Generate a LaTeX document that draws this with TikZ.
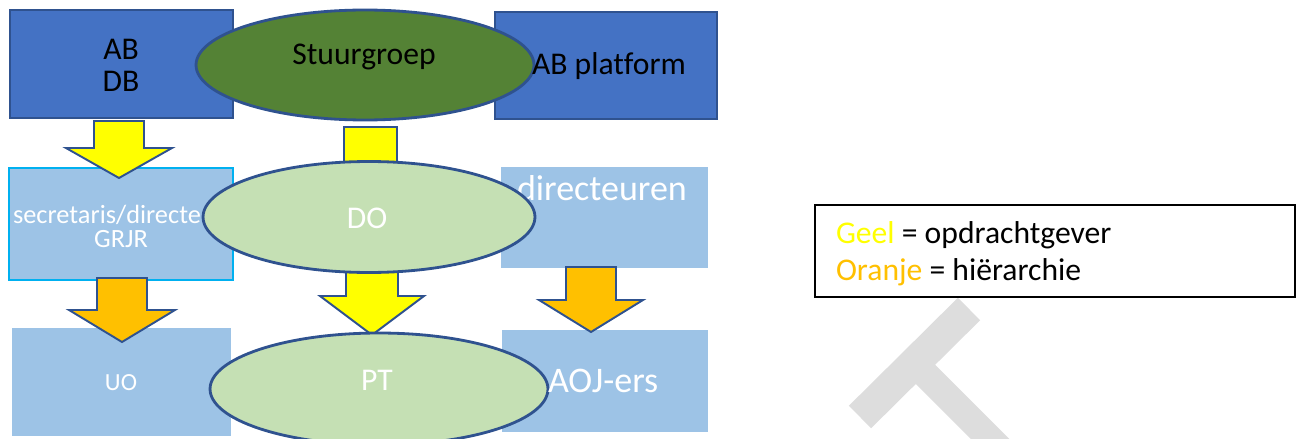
\documentclass[tikz,border=0pt]{standalone}
\usepackage{fontspec}
\setmainfont{Carlito}[Ligatures=NoCommon]
\usetikzlibrary{shapes.geometric}
\definecolor{boxblue}{HTML}{4472C4}
\definecolor{bordblue}{HTML}{2F528F}
\definecolor{sgreen}{HTML}{548235}
\definecolor{lgreen}{HTML}{C5E0B4}
\definecolor{lblue}{HTML}{9DC3E6}
\definecolor{cyanb}{HTML}{00B0F0}
\definecolor{ayellow}{HTML}{FFFF00}
\definecolor{aorange}{HTML}{FFC000}
\definecolor{wmgrey}{HTML}{DDDDDD}
\newcommand{\fs}[1]{\fontsize{#1}{#1}\selectfont}
% block arrow: xc, shaft half, head half, ytop, yneck, ytip, colour
\newcommand{\blockarr}[7]{%
  \draw[blockarrow, fill=#7] ({#1-#2},#4) -- ({#1+#2},#4) -- ({#1+#2},#5) -- ({#1+#3},#5)
    -- (#1,#6) -- ({#1-#3},#5) -- ({#1-#2},#5) -- cycle;}
\tikzset{
  darkbox/.style={rectangle, draw=bordblue, line width=1.1pt, fill=boxblue, inner sep=0pt},
  lightbox/.style={rectangle, fill=lblue, inner sep=0pt},
  oval/.style={ellipse, draw=bordblue, line width=1.6pt, inner sep=0pt},
  blockarrow/.style={draw=bordblue, line width=1.1pt, line join=miter},
  lbl/.style={inner sep=0pt, outer sep=0pt},
  wm/.style={wmgrey, line cap=butt}
}
\begin{document}
\begin{tikzpicture}[x=0.02cm, y=-0.02cm]
\useasboundingbox (0,0) rectangle (1301,439);
\fill[white] (0,0) rectangle (1301,439);

% watermark fragment
\begin{scope}
\clip (0,0) rectangle (1301,439);
\draw[wm, line width=18pt] (860,417) -- (969,309);
\draw[wm, line width=15.5pt] (914,363) -- (1020,469);
\end{scope}

% top row
\node[darkbox, minimum width=4.46cm, minimum height=2.16cm] (abdb) at (121.5,64) {};
\node[darkbox, minimum width=4.44cm, minimum height=2.14cm] (abpl) at (606,65.5) {};
\fill[ayellow, draw=bordblue, line width=1.1pt] (344,127) rectangle (397,200);
\node[oval, fill=sgreen, minimum width=6.76cm, minimum height=2.2cm] (stuur) at (365,65) {};
\node[lbl, align=center, font=\fontsize{18}{18.2}\selectfont] (tabdb) at (121,65) {AB\\DB};
\node[lbl, font=\fs{18}] (tstuur) at (364,57) {Stuurgroep};
\node[lbl, font=\fs{18}, anchor=west] (tabpl) at (532,66) {AB platform};

% middle row
\node[lightbox, draw=cyanb, line width=1pt, minimum width=4.48cm, minimum height=2.24cm] (secr) at (121,224) {};
\node[lightbox, minimum width=4.14cm, minimum height=2.02cm] (dirc) at (604.5,217.5) {};
\blockarr{119}{25}{53}{121}{148}{178}{ayellow}
\node[lbl, white, font=\fs{15}, anchor=base west] (tsecr) at (13,223) {secretaris/directe};
\node[lbl, white, font=\fs{15}, anchor=base] (tgrjr) at (121,247) {GRJR};
\node[lbl, white, font=\fs{20.5}, anchor=base west] (tdirc) at (517,200) {directeuren};
\blockarr{372}{26}{52}{250}{296}{335}{ayellow}
\node[oval, fill=lgreen, minimum width=6.64cm, minimum height=2.22cm] (do) at (369,217) {};
\node[lbl, white, font=\fs{18}, anchor=base] (tdo) at (367,228) {DO};

% bottom row
\node[lightbox, minimum width=4.38cm, minimum height=2.16cm] (uo) at (121.5,382) {};
\node[lightbox, minimum width=4.12cm, minimum height=2.04cm] (aoj) at (605,381) {};
\blockarr{122}{25}{53}{278}{310}{342}{aorange}
\blockarr{591}{25}{52}{267}{300}{332}{aorange}
\node[oval, fill=lgreen, minimum width=6.76cm, minimum height=2.24cm] (pt) at (379,389) {};
\node[lbl, white, font=\fs{14}, anchor=base] (tuo) at (121,390) {UO};
\node[lbl, white, font=\fs{18}, anchor=base] (tpt) at (377,390) {PT};
\node[lbl, white, font=\fs{20.5}, anchor=base west] (taoj) at (548,392) {AOJ-ers};

% legend
\node[rectangle, draw=black, line width=1.1pt, fill=white, minimum width=9.6cm, minimum height=1.84cm] (legend) at (1055,251) {};
\node[lbl, font=\fs{18}, anchor=base west] (lg1) at (836,243) {\textcolor{ayellow}{Geel} = opdrachtgever};
\node[lbl, font=\fs{18}, anchor=base west] (lg2) at (836,280) {\textcolor{aorange}{Oranje} = hiërarchie};
\end{tikzpicture}
\end{document}
